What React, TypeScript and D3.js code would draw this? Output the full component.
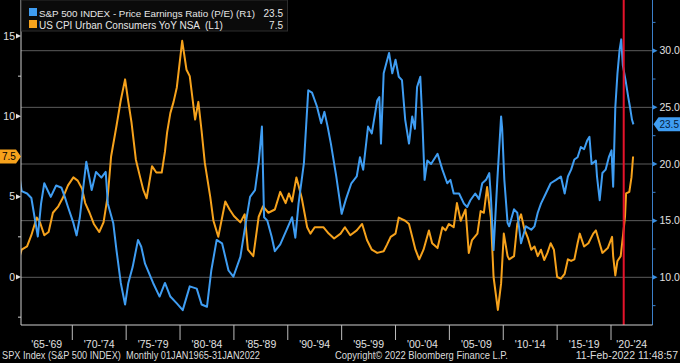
import * as d3 from "d3";

// S&P 500 P/E ratio (right axis) – decimal year / value
const peDates = [
  1965.0, 1965.3, 1965.8, 1966.2, 1966.5, 1966.8, 1967.1, 1967.4, 1968.0, 1968.5, 1969.0, 1969.3, 1969.6,
  1970.1, 1970.4, 1970.7, 1971.1, 1971.3, 1971.8, 1972.2, 1972.7, 1973.1, 1973.3, 1973.8, 1974.1, 1974.5,
  1974.9, 1975.2, 1975.6, 1976.1, 1976.4, 1976.75, 1977.5, 1978.1, 1978.6, 1979.1, 1979.7, 1980.25, 1980.9,
  1981.55, 1982.0, 1982.5, 1982.9, 1983.4, 1983.9, 1984.5, 1984.95, 1985.6, 1986.0, 1986.5, 1986.96, 1987.3,
  1987.6, 1987.8, 1988.1, 1988.5, 1988.8, 1989.3, 1989.9, 1990.4, 1990.7, 1991.0, 1991.5, 1991.9, 1992.25,
  1992.7, 1993.1, 1993.4, 1993.7, 1994.0, 1994.5, 1995.0, 1995.4, 1995.9, 1996.4, 1996.7, 1997.0, 1997.45,
  1997.8, 1998.3, 1998.5, 1998.65, 1998.9, 1999.4, 1999.7, 2000.0, 2000.3, 2000.6, 2000.9, 2001.25, 2001.55,
  2001.8, 2002.0, 2002.3, 2002.5, 2002.7, 2002.95, 2003.3, 2003.9, 2004.35, 2004.8, 2005.1, 2005.4, 2005.9,
  2006.35, 2006.65, 2006.95, 2007.4, 2007.75, 2008.05, 2008.4, 2008.7, 2008.85, 2009.1, 2009.45, 2009.8,
  2009.9, 2010.1, 2010.4, 2010.55, 2011.0, 2011.3, 2011.65, 2012.1, 2012.6, 2012.9, 2013.2, 2013.5, 2013.95,
  2014.4, 2014.9, 2015.35, 2015.7, 2016.0, 2016.3, 2016.6, 2016.9, 2017.2, 2017.5, 2017.8, 2018.0, 2018.2,
  2018.6, 2018.7, 2018.95, 2019.2, 2019.5, 2019.8, 2020.05, 2020.2, 2020.4, 2020.6, 2020.8, 2020.95, 2021.1,
  2021.35, 2021.6, 2021.75, 2021.95, 2022.08,
];
const peValues = [
  19.5, 17.6, 17.4, 17.0, 15.3, 13.6, 16.5, 18.3, 17.1, 18.1, 17.9, 17.1, 16.2,
  14.8, 13.7, 15.3, 18.6, 20.2, 17.7, 19.3, 18.8, 19.3, 16.5, 14.8, 12.4, 9.5,
  7.6, 9.5, 10.9, 13.3, 12.7, 11.2, 9.5, 8.3, 9.5, 8.3, 7.7, 7.1, 9.2,
  9.0, 7.6, 7.4, 10.6, 13.3, 13.0, 10.6, 10.05, 11.8, 14.2, 17.1, 17.7, 20.1,
  23.3, 15.3, 15.0, 13.6, 12.3, 12.9, 14.2, 15.3, 13.5, 16.5, 20.1, 26.5, 26.3,
  25.1, 23.6, 24.6, 23.3, 21.8, 18.9, 15.6, 16.9, 18.3, 18.9, 20.6, 19.5, 23.3,
  22.7, 25.6, 25.9, 21.8, 28.0, 29.8, 28.0, 29.2, 27.7, 27.4, 23.9, 21.8, 24.2,
  23.1, 26.8, 27.7, 23.6, 18.6, 20.3, 20.0, 20.9, 19.5, 18.3, 18.6, 17.4, 17.4,
  16.5, 16.2, 16.8, 17.4, 16.9, 18.3, 18.6, 19.2, 17.1, 12.4, 18.6, 24.2,
  23.1, 18.6, 14.8, 14.5, 16.0, 15.7, 13.0, 14.5, 14.2, 14.5, 15.7, 16.5, 17.4,
  18.3, 18.6, 18.9, 17.4, 18.9, 19.5, 20.4, 20.6, 21.5, 21.3, 22.1, 22.4, 20.0,
  20.3, 18.9, 16.8, 19.2, 19.5, 20.6, 21.2, 18.0, 25.0, 28.0, 30.1, 31.0, 28.7,
  27.4, 25.9, 25.1, 23.9, 23.5,
];

// US CPI YoY % (left axis)
const cpiDates = [
  1965.0, 1965.3, 1965.8, 1966.2, 1966.7, 1967.0, 1967.4, 1967.8, 1968.2, 1968.7, 1969.1, 1969.6, 1970.1,
  1970.5, 1970.9, 1971.2, 1971.6, 1972.0, 1972.5, 1972.9, 1973.3, 1973.6, 1974.1, 1974.5, 1974.9, 1975.2,
  1975.5, 1975.9, 1976.3, 1976.6, 1976.9, 1977.4, 1977.8, 1978.3, 1978.6, 1978.8, 1979.1, 1979.4, 1979.7,
  1980.2, 1980.6, 1980.9, 1981.4, 1981.7, 1982.0, 1982.3, 1982.8, 1983.1, 1983.55, 1984.2, 1984.6, 1985.0,
  1985.6, 1986.0, 1986.3, 1986.8, 1987.3, 1987.7, 1988.2, 1988.8, 1989.3, 1989.8, 1990.1, 1990.4, 1990.8,
  1991.0, 1991.3, 1991.8, 1992.1, 1992.5, 1993.3, 1993.8, 1994.3, 1994.9, 1995.3, 1995.8, 1996.4, 1996.9,
  1997.35, 1997.8, 1998.3, 1998.9, 1999.2, 1999.55, 2000.0, 2000.3, 2000.9, 2001.25, 2001.55, 2001.85,
  2002.2, 2002.6, 2003.1, 2003.4, 2003.9, 2004.35, 2004.65, 2004.95, 2005.4, 2005.7, 2006.05, 2006.5,
  2006.8, 2007.1, 2007.6, 2007.9, 2008.2, 2008.5, 2008.85, 2009.1, 2009.5, 2009.8, 2010.05, 2010.4, 2010.55,
  2011.0, 2011.3, 2011.65, 2011.95, 2012.3, 2012.6, 2012.9, 2013.2, 2013.5, 2013.8, 2014.1, 2014.4, 2014.7,
  2015.0, 2015.35, 2015.7, 2016.0, 2016.3, 2016.6, 2016.9, 2017.1, 2017.5, 2017.9, 2018.35, 2018.6, 2018.9,
  2019.2, 2019.7, 2020.1, 2020.2, 2020.4, 2020.6, 2020.9, 2021.1, 2021.3, 2021.4, 2021.7, 2021.9, 2022.05,
];
const cpiValues = [
  1.0, 1.7, 1.9, 2.6, 3.7, 3.4, 2.6, 2.8, 4.0, 4.4, 4.9, 5.7, 6.2,
  6.0, 5.5, 4.6, 4.0, 3.3, 2.8, 3.4, 5.1, 7.5, 9.4, 11.0, 12.3, 10.9,
  9.6, 7.3, 6.2, 5.4, 4.9, 6.9, 6.5, 6.5, 7.8, 9.0, 10.2, 10.9, 11.8,
  14.7, 12.9, 12.5, 9.8, 10.9, 9.1, 7.1, 5.0, 3.5, 2.5, 4.7, 4.2, 3.8,
  3.4, 3.9, 1.7, 1.3, 3.75, 4.4, 4.0, 4.2, 5.3, 4.6, 5.2, 4.7, 6.2,
  5.7, 4.9, 3.1, 2.7, 3.1, 3.1, 2.7, 2.4, 2.7, 3.1, 2.6, 2.9, 3.3,
  2.3, 1.7, 1.5, 1.6, 2.0, 2.5, 2.7, 3.7, 3.5, 3.3, 2.5, 1.7,
  1.1, 1.7, 2.9, 2.1, 1.8, 3.1, 2.9, 3.3, 3.1, 4.6, 3.5, 4.2,
  1.5, 2.3, 2.7, 4.1, 4.0, 5.6, 3.7, 0.0, -2.05, -0.4, 2.7, 1.3, 1.1,
  1.3, 3.3, 3.9, 3.0, 2.4, 1.7, 1.9, 1.3, 1.7, 1.06, 1.5, 2.1, 1.7,
  0.0, -0.1, 0.2, 1.1, 1.0, 1.1, 2.1, 2.7, 1.9, 2.1, 2.7, 2.9, 2.2,
  1.5, 1.8, 2.5, 1.3, 0.1, 1.0, 1.3, 2.5, 3.75, 5.2, 5.3, 6.2, 7.5,
];

const periodStarts = [1965, 1970, 1975, 1980, 1985, 1990, 1995, 2000, 2005, 2010, 2015, 2020];
const periodLabels = ["'65-'69", "'70-'74", "'75-'79", "'80-'84", "'85-'89", "'90-'94", "'95-'99", "'00-'04", "'05-'09", "'10-'14", "'15-'19", "'20-'24"];
const leftTicks = [0, 5, 10, 15];
const leftMinor = [-2.5, 2.5, 7.5, 12.5];
const rightTicks = [10, 15, 20, 25, 30];
const rightMinor = [7.5, 12.5, 17.5, 22.5, 27.5, 32.5];
const markerYear = 2021.18;
const peLast = 23.5;
const cpiLast = 7.5;

const W = 680;
const H = 363;
const plotL = 21;
const plotR = 652.5;
const plotT = 0;
const plotB = 325;

const BLUE = "#3f9df2";
const ORANGE = "#f6a21c";
const FONT = "'Liberation Sans', Arial, sans-serif";

export default function App() {
  const x = d3.scaleLinear([1970, 2020], [72.3, 611]);
  const yL = d3.scaleLinear([0, 15], [277, 36]);
  const yR = d3.scaleLinear([10, 30], [277.3, 50.7]);

  const peLine = d3
    .line()
    .x((d) => x(d[0]))
    .y((d) => yR(d[1]));
  const cpiLine = d3
    .line()
    .x((d) => x(d[0]))
    .y((d) => yL(d[1]));

  const peData = peDates.map((d, i) => [d, peValues[i]]);
  const cpiData = cpiDates.map((d, i) => [d, cpiValues[i]]);

  const yCpi = yL(cpiLast);
  const yPe = yR(peLast);

  return (
    <svg
      width={W}
      height={H}
      style={{ position: "absolute", left: 0, top: 0, background: "#000" }}
      fontFamily={FONT}
    >
      <rect width={W} height={H} fill="#000" />
      <defs>
        <clipPath id="plot">
          <rect x={plotL} y={plotT} width={plotR - plotL} height={plotB - plotT} />
        </clipPath>
      </defs>

      {/* gridlines */}
      {rightTicks.map((t) => (
        <line key={"g" + t} x1={plotL} x2={plotR} y1={yR(t)} y2={yR(t)} stroke="#5c5c5c" strokeWidth={1} />
      ))}

      <g clipPath="url(#plot)">
        <path d={cpiLine(cpiData)} fill="none" stroke={ORANGE} strokeWidth={2} strokeLinejoin="round" />
        <path d={peLine(peData)} fill="none" stroke={BLUE} strokeWidth={2} strokeLinejoin="round" />
        <line x1={x(markerYear)} x2={x(markerYear)} y1={plotT} y2={plotB} stroke="#e5132b" strokeWidth={2} />
      </g>

      {/* axes frame */}
      <line x1={plotL} x2={plotL} y1={plotT} y2={plotB} stroke="#cfcfcf" strokeWidth={1} />
      <line x1={plotR} x2={plotR} y1={plotT} y2={plotB} stroke="#3b7fc9" strokeWidth={1} />
      <line x1={plotL} x2={plotR} y1={plotB} y2={plotB} stroke="#cfcfcf" strokeWidth={1} />

      {/* left axis */}
      {leftTicks.map((t) => (
        <g key={"l" + t}>
          <path d={`M${plotL - 5},${yL(t) - 2.5}L${plotL},${yL(t)}L${plotL - 5},${yL(t) + 2.5}Z`} fill="#e0e0e0" />
          <text x={plotL - 6} y={yL(t) + 3.5} textAnchor="end" fontSize={10.5} fill="#e0e0e0">
            {t}
          </text>
        </g>
      ))}
      {leftMinor.map((t) => (
        <line key={"lm" + t} x1={plotL - 3} x2={plotL} y1={yL(t)} y2={yL(t)} stroke="#cfcfcf" />
      ))}

      {/* right axis */}
      {rightTicks.map((t) => (
        <g key={"r" + t}>
          <path d={`M${plotR},${yR(t) - 2.5}L${plotR + 5},${yR(t)}L${plotR},${yR(t) + 2.5}Z`} fill="#3b8fe0" />
          <text x={plotR + 7} y={yR(t) + 3.5} fontSize={10.5} fill="#e0e0e0">
            {t.toFixed(1)}
          </text>
        </g>
      ))}
      {rightMinor.map((t) => (
        <line key={"rm" + t} x1={plotR} x2={plotR + 3} y1={yR(t)} y2={yR(t)} stroke="#3b7fc9" />
      ))}

      {/* last value badges */}
      <path d={`M0,${yCpi - 7}L16,${yCpi - 7}L21,${yCpi}L16,${yCpi + 7}L0,${yCpi + 7}Z`} fill={ORANGE} />
      <text x={2} y={yCpi + 3.5} fontSize={10} fill="#000">
        {cpiLast.toFixed(1)}
      </text>
      <path d={`M${plotR + 1},${yPe}L${plotR + 6},${yPe - 7}L${W},${yPe - 7}L${W},${yPe + 7}L${plotR + 6},${yPe + 7}Z`} fill={BLUE} />
      <text x={plotR + 7} y={yPe + 3.5} fontSize={10} fill="#06203d">
        {peLast.toFixed(1)}
      </text>

      {/* x axis period separators and labels */}
      {periodStarts.map((p, i) => {
        const a = Math.max(plotL, x(p));
        const b = Math.min(plotR, x(p + 5));
        return (
          <g key={"p" + p}>
            {i > 0 && <line x1={x(p)} x2={x(p)} y1={plotB} y2={340} stroke="#bdbdbd" />}
            <text x={(a + b) / 2} y={348} textAnchor="middle" fontSize={10.5} fill="#e0e0e0">
              {periodLabels[i]}
            </text>
          </g>
        );
      })}

      {/* legend */}
      <rect x={plotL + 0.5} y={0} width={266} height={31} fill="#0b0b0b" stroke="#2c2c2c" />
      <rect x={29} y={8} width={8} height={8} fill={BLUE} />
      <rect x={29} y={20} width={8} height={8} fill={ORANGE} />
      <text x={39} y={16.5} fontSize={9.8} fill="#e6e6e6">
        S&amp;P 500 INDEX - Price Earnings Ratio (P/E) (R1)
      </text>
      <text x={283} y={16.5} textAnchor="end" fontSize={10} fill="#e6e6e6">
        {peLast.toFixed(1)}
      </text>
      <text x={39} y={28.5} fontSize={10} fill="#e6e6e6" style={{ whiteSpace: "pre" }}>
        {"US CPI Urban Consumers YoY NSA  (L1)"}
      </text>
      <text x={283} y={28.5} textAnchor="end" fontSize={10} fill="#e6e6e6">
        {cpiLast.toFixed(1)}
      </text>

      {/* footer */}
      <text x={2} y={359} fontSize={10.5} fill="#dcdcdc" style={{ whiteSpace: "pre" }} textLength={258} lengthAdjust="spacingAndGlyphs">
        {"SPX Index (S&P 500 INDEX)  Monthly 01JAN1965-31JAN2022"}
      </text>
      <text x={335} y={359} fontSize={10.5} fill="#dcdcdc" textLength={173} lengthAdjust="spacingAndGlyphs">
        Copyright© 2022 Bloomberg Finance L.P.
      </text>
      <text x={678} y={359} textAnchor="end" fontSize={10.5} fill="#dcdcdc">
        11-Feb-2022 11:48:57
      </text>
    </svg>
  );
}
